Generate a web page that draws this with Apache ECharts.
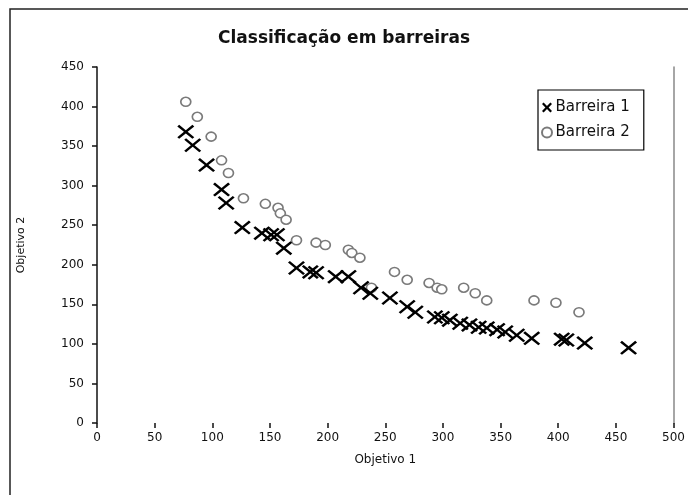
<!DOCTYPE html>
<html>
<head>
<meta charset="utf-8">
<script src="https://cdn.jsdelivr.net/npm/echarts@6/dist/echarts.min.js"></script>
<style>html,body{margin:0;padding:0;background:#fff;}#c{width:688px;height:495px;}</style>
</head>
<body>
<div id="c"></div>
<script>
var titleText = 'Classificação em barreiras';
var xName = 'Objetivo 1';
var yName = 'Objetivo 2';
var seriesNames = ['Barreira 1', 'Barreira 2'];

var barreira1X = [77, 83, 95, 108, 112, 126, 143, 151, 156, 162, 173, 185, 190, 207, 218, 229, 237, 254, 269, 276, 293, 299, 306, 315, 323, 331, 338, 347, 354, 364, 377, 403, 407, 423, 461];
var barreira1Y = [368, 351, 326, 295, 278, 247, 240, 238, 238, 221, 196, 191, 190, 185, 185, 171, 164, 158, 147, 140, 134, 133, 130, 126, 124, 121, 120, 118, 115, 111, 107, 106, 105, 101, 95];

var barreira2X = [77, 87, 99, 108, 114, 127, 146, 157, 159, 164, 173, 190, 198, 218, 221, 228, 238, 258, 269, 288, 295, 299, 318, 328, 338, 379, 398, 418];
var barreira2Y = [406, 387, 362, 332, 316, 284, 277, 272, 265, 257, 231, 228, 225, 219, 215, 209, 171, 191, 181, 177, 171, 169, 171, 164, 155, 155, 152, 140];

var xTicks = {min: 0, max: 500, interval: 50};
var yTicks = {min: 0, max: 450, interval: 50};

function pairs(xs, ys) { return xs.map(function (x, i) { return [x, ys[i]]; }); }

var xPath = 'path://M0,1.1L1.1,0L5,3.9L8.9,0L10,1.1L6.1,5L10,8.9L8.9,10L5,6.1L1.1,10L0,8.9L3.9,5Z';
var xPathLegend = 'path://M0,1.6L1.6,0L5,3.4L8.4,0L10,1.6L6.6,5L10,8.4L8.4,10L5,6.6L1.6,10L0,8.4L3.4,5Z';
var font = 'DejaVu Sans';

var chart = echarts.init(document.getElementById('c'), null, {renderer: 'canvas'});
chart.setOption({
  animation: false,
  backgroundColor: '#fff',
  title: {
    text: titleText, left: 'center', top: 25,
    textStyle: {fontFamily: font, fontSize: 17, fontWeight: 'bold', color: '#111'}
  },
  legend: {
    data: [
      {name: seriesNames[0], icon: xPathLegend},
      {name: seriesNames[1], icon: 'circle'}
    ],
    orient: 'vertical', left: 538, top: 90,
    borderColor: '#000', borderWidth: 1.2,
    padding: [10, 14, 10, 3],
    itemGap: 10, itemWidth: 13, itemHeight: 10,
    textStyle: {fontFamily: font, fontSize: 15, color: '#111', padding: [0, 0, 0, -3]}
  },
  grid: {left: 97, right: 10, top: 67, bottom: 72},
  xAxis: {
    type: 'value', min: xTicks.min, max: xTicks.max, interval: xTicks.interval,
    name: xName, nameLocation: 'middle', nameGap: 31,
    nameTextStyle: {fontFamily: font, fontSize: 12, color: '#111'},
    axisLine: {show: false},
    axisTick: {show: true, length: 5, lineStyle: {color: '#111', width: 1.5}},
    axisLabel: {fontFamily: font, fontSize: 12, color: '#111', margin: 9},
    splitLine: {show: false}
  },
  yAxis: [{
    type: 'value', min: yTicks.min, max: yTicks.max, interval: yTicks.interval,
    name: yName, nameLocation: 'middle', nameGap: 70, nameRotate: 90,
    nameTextStyle: {fontFamily: font, fontSize: 11, color: '#111'},
    axisLine: {show: true, lineStyle: {color: '#111', width: 1.5}},
    axisTick: {show: true, length: 5, lineStyle: {color: '#111', width: 1.5}},
    axisLabel: {fontFamily: font, fontSize: 12, color: '#111', margin: 13},
    splitLine: {show: false}
  }, {
    type: 'value', min: yTicks.min, max: yTicks.max, interval: yTicks.interval, position: 'right',
    axisLine: {show: true, lineStyle: {color: '#888', width: 1.5}},
    axisTick: {show: false}, axisLabel: {show: false}, splitLine: {show: false}
  }],
  graphic: [{
    type: 'rect', silent: true, z: -1,
    shape: {x: 10, y: 9, width: 720, height: 520},
    style: {fill: 'none', stroke: '#222', lineWidth: 1.5}
  }],
  series: [{
    name: seriesNames[1], type: 'scatter',
    data: pairs(barreira2X, barreira2Y),
    symbol: 'circle', symbolSize: [10, 9],
    itemStyle: {color: '#fff', borderColor: '#7a7a7a', borderWidth: 1.6, opacity: 1}
  }, {
    name: seriesNames[0], type: 'scatter',
    data: pairs(barreira1X, barreira1Y),
    symbol: xPath, symbolSize: [17, 14],
    itemStyle: {color: '#000', opacity: 1}
  }]
});
</script>
</body>
</html>
